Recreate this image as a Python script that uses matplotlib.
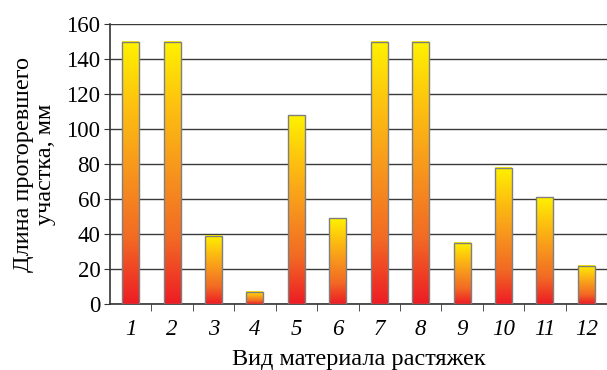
import matplotlib
matplotlib.use("Agg")
import matplotlib.pyplot as plt
import numpy as np
from matplotlib.colors import LinearSegmentedColormap

categories = ["1", "2", "3", "4", "5", "6", "7", "8", "9", "10", "11", "12"]
values = [150, 150, 39, 7, 108, 49, 150, 150, 35, 78, 61, 22]
yticks = [0, 20, 40, 60, 80, 100, 120, 140, 160]

plt.rcParams['font.family'] = ['Liberation Serif', 'DejaVu Serif']

fig = plt.figure(figsize=(6.07, 3.70), dpi=100)
ax = fig.add_axes([110/607, 1-304/370, (607-110)/607, (304-24)/370])

cmap = LinearSegmentedColormap.from_list("ry", ["#ED1C24", "#F26A24", "#F7941D", "#FDC010", "#FFF200"])
grad = np.linspace(0, 1, 256).reshape(-1, 1)

x = np.arange(1, len(categories) + 1)
w = 0.41
bars = ax.bar(x, values, width=w, facecolor="none", edgecolor="#7f7f7f", linewidth=1.0, zorder=4)
for b in bars:
    x0 = b.get_x(); h = b.get_height()
    ax.imshow(grad, cmap=cmap, origin="lower", aspect="auto",
              extent=(x0, x0 + b.get_width(), 0, h), zorder=3, interpolation="bilinear")

ax.set_xlim(0.5, len(categories) + 0.5)
ax.set_ylim(0, 160)
ax.set_yticks(yticks)
ax.yaxis.grid(True, color="#3a3a3a", linewidth=1.0, zorder=0)
ax.set_axisbelow(True)
ax.set_xticks(x)
ax.set_xticklabels(categories, fontstyle="italic", fontsize=16.5)
ax.tick_params(axis="x", length=0, pad=11)
ax.set_xticks(np.arange(1.5, len(categories) + 0.5, 1), minor=True)
ax.tick_params(axis="x", which="minor", length=5, direction="out", color="#333333")
ax.tick_params(axis="y", length=4, direction="out", labelsize=16.5, color="#333333", pad=3)
for s in ["right", "top"]:
    ax.spines[s].set_visible(False)
ax.spines["left"].set_color("#333333")
ax.spines["bottom"].set_color("#333333")
ax.spines["left"].set_linewidth(1.2)
ax.spines["bottom"].set_linewidth(1.2)

ax.set_ylabel("Длина прогоревшего\nучастка, мм", fontsize=17.5, linespacing=1.1, labelpad=7)
ax.set_xlabel("Вид материала растяжек", fontsize=17.5, labelpad=6)

fig.savefig("out.png", dpi=100)
